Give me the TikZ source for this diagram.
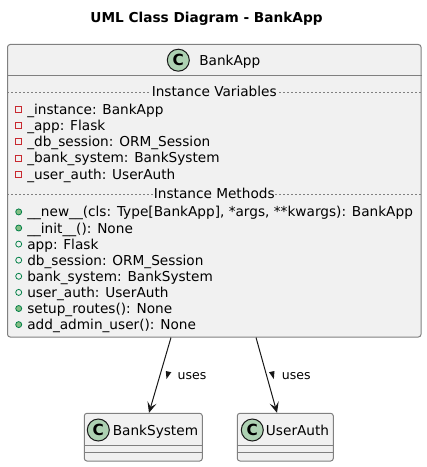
\documentclass[tikz,border=0pt]{standalone}
\usepackage{fontspec}
\setmainfont{DejaVu Sans}
\usepackage{xcolor}
\usepackage{tikz}
\usetikzlibrary{arrows.meta,calc,fit}

\definecolor{umlfill}{RGB}{241,241,241}
\definecolor{umlborder}{RGB}{128,128,128}
\definecolor{umldark}{RGB}{24,24,24}
\definecolor{umlcircle}{RGB}{173,209,178}
\definecolor{privred}{RGB}{200,41,48}
\definecolor{pubgreen}{RGB}{3,128,72}
\definecolor{pubfill}{RGB}{132,190,132}

\begin{document}
\begin{tikzpicture}[x=0.75pt,y=0.75pt,yscale=-1,xscale=1,
  classbox/.style={draw=umlborder,fill=umlfill,line width=0.75pt,rounded corners=2pt,inner sep=0pt},
  boxline/.style={draw=umlborder,line width=0.75pt},
  sepline/.style={draw=umlborder,line width=0.5pt,dash pattern=on 1.5pt off 1.5pt},
  seplabel/.style={fill=umlfill,anchor=base,inner xsep=0.5pt,inner ysep=1pt,font=\fontsize{10.25}{12}\selectfont},
  classicon/.style={circle,draw=umldark,fill=umlcircle,line width=0.75pt,minimum size=16.5pt,inner sep=0pt,font=\fontsize{11.5}{12}\selectfont\bfseries},
  classname/.style={anchor=base west,inner sep=0pt,font=\fontsize{10.25}{12}\selectfont},
  member/.style={anchor=base west,inner sep=0pt,font=\fontsize{10.25}{12}\selectfont},
  privfield/.style={rectangle,draw=privred,line width=0.6pt,minimum size=4.5pt,inner sep=0pt},
  pubmethod/.style={circle,draw=pubgreen,fill=pubfill,line width=0.6pt,minimum size=4.5pt,inner sep=0pt},
  pubfield/.style={circle,draw=pubgreen,line width=0.6pt,minimum size=4.5pt,inner sep=0pt},
  uses/.style={draw=umldark,line width=0.75pt,-{Stealth[length=8pt,width=7pt,inset=3.5pt]}},
  useslabel/.style={anchor=base west,inner sep=0pt,font=\fontsize{9.4}{11}\selectfont}]

%Shape: Page
\path[use as bounding box,fill=white] (0,0) rectangle (427,467);

% Text Node
\node[anchor=base,inner sep=0pt,font=\fontsize{10.25}{12}\selectfont\bfseries] (title) at (206.5,22.7) {UML Class Diagram - BankApp};

%Shape: Class BankApp
\node[classbox,fit={(7.5,44.5) (421,337)}] (bankapp) {};
\draw[boxline] (bankapp.west |- 0,76) -- (bankapp.east |- 0,76);
\node[classicon] (bankappC) at (178.3,60.2) {C};
\node[classname] (bankappName) at (199,65.3) {BankApp};

%Shape: Instance Variables
\draw[sepline] (bankapp.west |- 0,92.3) -- (bankapp.east |- 0,92.3);
\node[seplabel] (ivars) at (214.25,96.3) {Instance Variables};
\node[privfield] (v1i) at (18.7,109.3) {};
\node[member] (v1) at (27,114.3) {\_instance: BankApp};
\node[privfield] (v2i) at (18.7,125.5) {};
\node[member] (v2) at (27,130.5) {\_app: Flask};
\node[privfield] (v3i) at (18.7,141.7) {};
\node[member] (v3) at (27,146.7) {\_db\_session: ORM\_Session};
\node[privfield] (v4i) at (18.7,157.9) {};
\node[member] (v4) at (27,162.9) {\_bank\_system: BankSystem};
\node[privfield] (v5i) at (18.7,174.1) {};
\node[member] (v5) at (27,179.1) {\_user\_auth: UserAuth};

%Shape: Instance Methods
\draw[sepline] (bankapp.west |- 0,194.3) -- (bankapp.east |- 0,194.3);
\node[seplabel] (imethods) at (214.25,198.3) {Instance Methods};
\node[pubmethod] (m1i) at (18.7,211.9) {};
\node[member] (m1) at (27,216.9) {\_\_new\_\_(cls: Type[BankApp], *args, **kwargs): BankApp};
\node[pubmethod] (m2i) at (18.7,228) {};
\node[member] (m2) at (27,233) {\_\_init\_\_(): None};
\node[pubfield] (m3i) at (18.7,244.1) {};
\node[member] (m3) at (27,249.1) {app: Flask};
\node[pubfield] (m4i) at (18.7,260.2) {};
\node[member] (m4) at (27,265.2) {db\_session: ORM\_Session};
\node[pubfield] (m5i) at (18.7,276.3) {};
\node[member] (m5) at (27,281.3) {bank\_system: BankSystem};
\node[pubfield] (m6i) at (18.7,292.4) {};
\node[member] (m6) at (27,297.4) {user\_auth: UserAuth};
\node[pubmethod] (m7i) at (18.7,308.5) {};
\node[member] (m7) at (27,313.5) {setup\_routes(): None};
\node[pubmethod] (m8i) at (18.7,324.6) {};
\node[member] (m8) at (27,329.6) {add\_admin\_user(): None};

%Shape: Class BankSystem
\node[classbox,fit={(84.3,413.3) (202.3,461)}] (banksys) {};
\draw[boxline] (banksys.west |- 0,445) -- (banksys.east |- 0,445);
\draw[boxline] (banksys.west |- 0,452.7) -- (banksys.east |- 0,452.7);
\node[classicon] (banksysC) at (98.3,430) {C};
\node[classname] (banksysName) at (112.5,435) {BankSystem};

%Shape: Class UserAuth
\node[classbox,fit={(237.3,413.3) (333.3,461)}] (userauth) {};
\draw[boxline] (userauth.west |- 0,445) -- (userauth.east |- 0,445);
\draw[boxline] (userauth.west |- 0,452.7) -- (userauth.east |- 0,452.7);
\node[classicon] (userauthC) at (252.3,430) {C};
\node[classname] (userauthName) at (265.7,435) {UserAuth};

%Straight Lines: uses
\draw[uses] ($(bankapp.south)+(-43.25,0)$) -- ($(banksys.north)+(5.7,0)$);
\fill[umldark] (165.8,371) -- (171.3,372.2) -- (166.5,379) -- cycle;
\node[useslabel] (uses1) at (177.3,379) {uses};
\draw[uses] ($(bankapp.south)+(41.75,0)$) -- ($(userauth.north)+(-8.3,0)$);
\fill[umldark] (269,372.2) -- (274.5,371) -- (273.8,379) -- cycle;
\node[useslabel] (uses2) at (281.7,379) {uses};

\end{tikzpicture}
\end{document}
